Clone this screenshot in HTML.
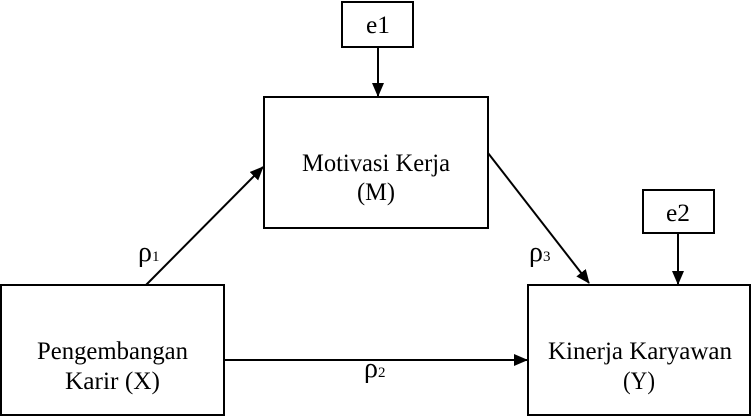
<!DOCTYPE html>
<html><head><meta charset="utf-8"><style>html,body{margin:0;padding:0;background:#fff}svg{display:block}</style></head>
<body>
<svg width="752" height="417" viewBox="0 0 752 417" xmlns="http://www.w3.org/2000/svg" font-family="Liberation Serif, serif" fill="#000">
<defs><marker id="a" markerWidth="14" markerHeight="12" refX="13" refY="6" orient="auto" markerUnits="userSpaceOnUse"><path d="M0,0 L14,6 L0,12 z"/></marker></defs>
<g fill="none" stroke="#000" stroke-width="2">
<rect x="342" y="2" width="71" height="45"/>
<rect x="264" y="97" width="224" height="131"/>
<rect x="643" y="190" width="71" height="43"/>
<rect x="1" y="285" width="223" height="130"/>
<rect x="528" y="285" width="222" height="130"/>
<line x1="378" y1="47" x2="378" y2="96" marker-end="url(#a)"/>
<line x1="146" y1="285" x2="263" y2="167" marker-end="url(#a)"/>
<line x1="488" y1="153" x2="589" y2="283" marker-end="url(#a)"/>
<line x1="678" y1="233" x2="678" y2="284" marker-end="url(#a)"/>
<line x1="224" y1="360" x2="527" y2="360" marker-end="url(#a)"/>
</g>
<g font-size="25">
<text x="366" y="33" textLength="24" lengthAdjust="spacingAndGlyphs">e1</text>
<text x="666" y="221" textLength="24" lengthAdjust="spacingAndGlyphs">e2</text>
<text x="302" y="171" textLength="148" lengthAdjust="spacingAndGlyphs">Motivasi Kerja</text>
<text x="357" y="200" textLength="38" lengthAdjust="spacingAndGlyphs">(M)</text>
<text x="37" y="359" textLength="151" lengthAdjust="spacingAndGlyphs">Pengembangan</text>
<text x="65" y="389" textLength="95" lengthAdjust="spacingAndGlyphs">Karir (X)</text>
<text x="548" y="359" textLength="184" lengthAdjust="spacingAndGlyphs">Kinerja Karyawan</text>
<text x="623" y="389" textLength="32" lengthAdjust="spacingAndGlyphs">(Y)</text>
</g>
<g font-size="28">
<text x="138" y="261">ρ<tspan font-size="15">1</tspan></text>
<text x="529" y="261">ρ<tspan font-size="15">3</tspan></text>
<text x="364" y="377">ρ<tspan font-size="15">2</tspan></text>
</g>
</svg>
</body></html>
